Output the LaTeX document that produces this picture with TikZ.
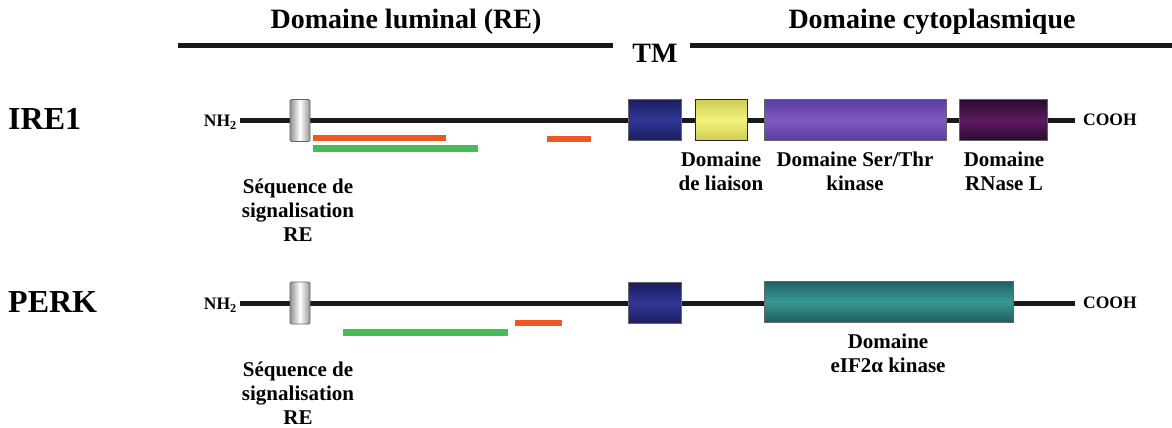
\documentclass[tikz,border=0pt]{standalone}
\usepackage{fontspec}
\setmainfont{Liberation Serif}
\begin{document}
\begin{tikzpicture}[x=1pt,y=-1pt,
  lbl/.style={font=\fontsize{21}{24}\selectfont\bfseries, align=center, inner sep=0pt},
  hdr/.style={font=\fontsize{28}{30}\selectfont\bfseries, inner sep=0pt},
  prot/.style={font=\fontsize{32}{34}\selectfont\bfseries, inner sep=0pt, anchor=west},
  term/.style={font=\fontsize{17.5}{18}\selectfont\bfseries, inner sep=0pt},
  bb/.style={line width=5pt, black!90},
  dom/.style={draw=gray!80!black, line width=0.8pt, inner sep=0pt, shading=axis},
  sig/.style={dom, left color=gray!85, right color=gray!85, middle color=white, minimum width=20pt, minimum height=42pt, rounded corners=1.5pt},
  tm/.style={dom, top color={rgb,255:red,28;green,30;blue,95}, bottom color={rgb,255:red,28;green,30;blue,95}, middle color={rgb,255:red,48;green,55;blue,150}, minimum width=53pt, minimum height=41pt},
  orb/.style={line width=6pt, draw={rgb,255:red,240;green,88;blue,34}},
  grb/.style={line width=7pt, draw={rgb,255:red,74;green,187;blue,90}}
]
\useasboundingbox (0,0) rectangle (1172,428);
% header
\node[hdr] (lum) at (406,22) {Domaine luminal (RE)};
\node[hdr] (cyt) at (932,22) {Domaine cytoplasmique};
\node[hdr] (tmlab) at (655,53) {TM};
\coordinate (hl1) at (178,46);
\coordinate (hl2) at (613,46);
\coordinate (hr1) at (690,46);
\coordinate (hr2) at (1172,46);
\draw[bb] (hl1) -- (hl2);
\draw[bb] (hr1) -- (hr2);

% ---------- IRE1 ----------
\node[prot] (ire) at (8,119) {IRE1};
\node[term, anchor=east] (nh1) at (237,122) {NH\textsubscript{2}};
\node[term, anchor=west] (co1) at (1083,120) {COOH};
\coordinate (a1) at (240,120);
\coordinate (b1) at (1075,120);
\draw[bb] (a1) -- (b1);
\node[sig] (s1) at (300,120.5) {};
\node[tm] (t1) at (654.5,120) {};
\node[dom, top color={rgb,255:red,205;green,205;blue,85}, bottom color={rgb,255:red,205;green,205;blue,85}, middle color={rgb,255:red,242;green,242;blue,125}, draw=black!85, minimum width=52pt, minimum height=41pt] (y1) at (721,120) {};
\node[dom, top color={rgb,255:red,92;green,60;blue,165}, bottom color={rgb,255:red,92;green,60;blue,165}, middle color={rgb,255:red,125;green,90;blue,190}, minimum width=182pt, minimum height=41pt] (k1) at (855,120) {};
\node[dom, top color={rgb,255:red,45;green,12;blue,48}, bottom color={rgb,255:red,45;green,12;blue,48}, middle color={rgb,255:red,92;green,26;blue,96}, minimum width=88pt, minimum height=41pt] (r1) at (1003,120) {};
\coordinate (o1a) at (313,138); \coordinate (o1b) at (446,138);
\coordinate (g1a) at (313,148.5); \coordinate (g1b) at (478,148.5);
\coordinate (o2a) at (547,138.5); \coordinate (o2b) at (591,138.5);
\draw[orb] (o1a) -- (o1b);
\draw[grb] (g1a) -- (g1b);
\draw[orb] (o2a) -- (o2b);
\node[lbl] (seq1) at (298,210) {Séquence de\\signalisation\\RE};
\node[lbl] (ll1) at (721,171) {Domaine\\de liaison};
\node[lbl] (ll2) at (855,171) {Domaine Ser/Thr\\kinase};
\node[lbl] (ll3) at (1004,171) {Domaine\\RNase L};

% ---------- PERK ----------
\node[prot] (perk) at (8,302) {PERK};
\node[term, anchor=east] (nh2) at (237,305) {NH\textsubscript{2}};
\node[term, anchor=west] (co2) at (1083,303) {COOH};
\coordinate (a2) at (240,303);
\coordinate (b2) at (1075,303);
\draw[bb] (a2) -- (b2);
\node[sig] (s2) at (300,303) {};
\node[tm] (t2) at (655,303) {};
\node[dom, top color={rgb,255:red,30;green,95;blue,95}, bottom color={rgb,255:red,30;green,95;blue,95}, middle color={rgb,255:red,55;green,152;blue,150}, minimum width=249pt, minimum height=41pt] (e2) at (888.5,301.5) {};
\coordinate (g2a) at (343,332); \coordinate (g2b) at (508,332);
\coordinate (o3a) at (515,322.5); \coordinate (o3b) at (562,322.5);
\draw[grb] (g2a) -- (g2b);
\draw[orb] (o3a) -- (o3b);
\node[lbl] (seq2) at (298,393) {Séquence de\\signalisation\\RE};
\node[lbl] (ll4) at (888,353) {Domaine\\eIF2α kinase};
\end{tikzpicture}
\end{document}
